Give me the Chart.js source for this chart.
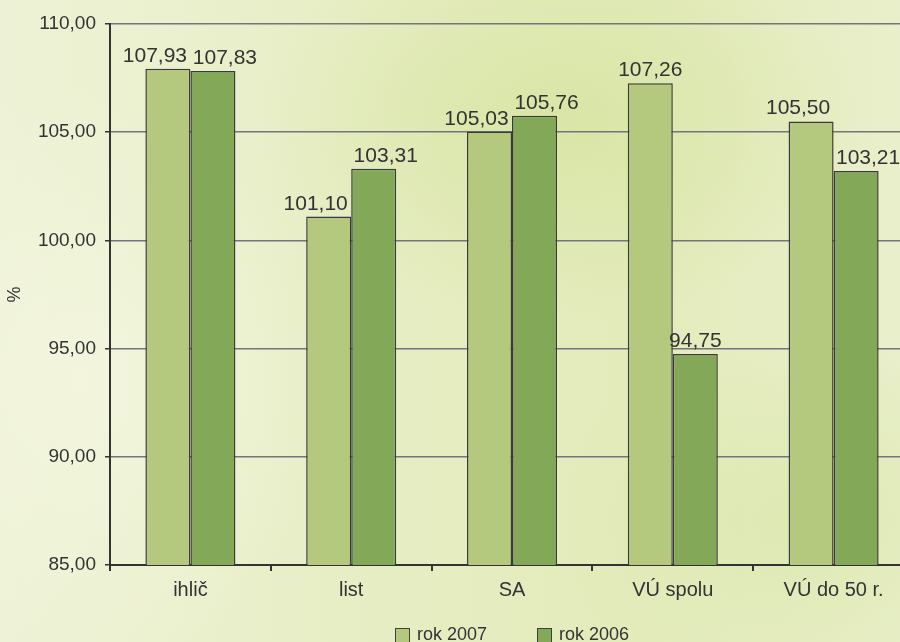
<!DOCTYPE html>
<html>
<head>
<meta charset="utf-8">
<script src="https://cdn.jsdelivr.net/npm/chart.js@4"></script>
<style>
	html, body {
		margin: 0;
		padding: 0;
		width: 900px;
		height: 642px;
		overflow: hidden;
	}
	body {
		position: relative;
		background:
			radial-gradient(ellipse 300px 200px at 560px 120px, rgba(214, 228, 160, 0.8), transparent),
			radial-gradient(ellipse 250px 300px at 80px 380px, rgba(243, 246, 222, 0.9), transparent),
			radial-gradient(ellipse 260px 180px at 800px 520px, rgba(220, 232, 175, 0.8), transparent),
			linear-gradient(90deg, #eef2d6 0%, #e6edc2 45%, #e3ebbb 70%, #e9efca 100%);
		font-family: 'Liberation Sans', Arial, sans-serif;
	}
	#wrap {
		position: absolute;
		left: 0;
		top: 0;
		width: 930px;
		height: 642px;
	}
	#legend {
		position: absolute;
		top: 624px;
		left: 112px;
		width: 800px;
		display: flex;
		justify-content: center;
		font-size: 18px;
		color: #333333;
		line-height: 21px;
	}
	.item {
		display: flex;
		align-items: center;
		margin: 0 25px;
	}
	.box {
		width: 13px;
		height: 14px;
		border: 1px solid #404040;
		margin-right: 7px;
		margin-top: 2px;
	}
</style>
</head>
<body>
<div id="wrap"><canvas id="chart"></canvas></div>
<div id="legend"></div>
<script>
var categories = ["ihlič", "list", "SA", "VÚ spolu", "VÚ do 50 r."];
var rok2007 = [107.93, 101.10, 105.03, 107.26, 105.50];
var rok2006 = [107.83, 103.31, 105.76, 94.75, 103.21];
var seriesNames = ["rok 2007", "rok 2006"];
var seriesColors = ["#b4c97e", "#82a858"];

function comma(v) {
	return v.toFixed(2).replace(".", ",");
}

// labels of neighbouring bars get pushed apart when they sit at similar heights
var labelShift = [-13, 12];

var valueLabels = {
	id: "valueLabels",
	afterDatasetsDraw: function (chart) {
		var ctx = chart.ctx;
		var m0 = chart.getDatasetMeta(0).data;
		var m1 = chart.getDatasetMeta(1).data;
		ctx.save();
		ctx.font = "21px 'Liberation Sans', Arial, sans-serif";
		ctx.fillStyle = "#333333";
		ctx.textAlign = "center";
		ctx.textBaseline = "alphabetic";
		chart.data.datasets.forEach(function (ds, i) {
			chart.getDatasetMeta(i).data.forEach(function (bar, j) {
				var close = Math.abs(m0[j].y - m1[j].y) < 100;
				var dx = close ? labelShift[i] : 0;
				ctx.fillText(comma(ds.data[j]), bar.x + dx, bar.y - 7);
			});
		});
		ctx.restore();
	}
};

var tickFont = { family: "'Liberation Sans', Arial, sans-serif", size: 19 };
var catFont = { family: "'Liberation Sans', Arial, sans-serif", size: 20 };

var chart = new Chart(document.getElementById("chart"), {
	type: "bar",
	data: {
		labels: categories,
		datasets: [
			{
				label: seriesNames[0],
				data: rok2007,
				backgroundColor: seriesColors[0],
				borderColor: "#3a3a3a",
				borderWidth: 1.5,
				barPercentage: 1,
				categoryPercentage: 0.56
			},
			{
				label: seriesNames[1],
				data: rok2006,
				backgroundColor: seriesColors[1],
				borderColor: "#3a3a3a",
				borderWidth: 1.5,
				barPercentage: 1,
				categoryPercentage: 0.56
			}
		]
	},
	options: {
		responsive: true,
		maintainAspectRatio: false,
		animation: false,
		layout: { padding: { top: 24, right: 16, left: 0, bottom: 35 } },
		plugins: {
			legend: { display: false },
			tooltip: { enabled: false }
		},
		scales: {
			x: {
				offset: true,
				border: { color: "#333333", width: 2 },
				grid: { drawOnChartArea: false, drawTicks: true, tickLength: 6, color: "#333333", lineWidth: 2, offset: true },
				ticks: { color: "#333333", font: catFont, padding: 7 },
				afterFit: function (s) { s.height = 42; }
			},
			y: {
				min: 85,
				max: 110,
				border: { color: "#333333", width: 2 },
				grid: { color: "#74747c", lineWidth: 1.5, tickLength: 5, tickColor: "#333333" },
				ticks: {
					stepSize: 5,
					color: "#333333",
					font: tickFont,
					padding: 9,
					callback: function (v) { return comma(v); }
				},
				title: { display: true, text: "%", color: "#333333", font: { family: tickFont.family, size: 18 }, padding: { top: 4, bottom: 4 } },
				afterFit: function (s) { s.width = 110; }
			}
		}
	},
	plugins: [valueLabels]
});

var legend = document.getElementById("legend");
chart.data.datasets.forEach(function (ds) {
	var item = document.createElement("div");
	item.className = "item";
	var box = document.createElement("div");
	box.className = "box";
	box.style.background = ds.backgroundColor;
	var text = document.createElement("span");
	text.textContent = ds.label;
	item.appendChild(box);
	item.appendChild(text);
	legend.appendChild(item);
});
</script>
</body>
</html>
